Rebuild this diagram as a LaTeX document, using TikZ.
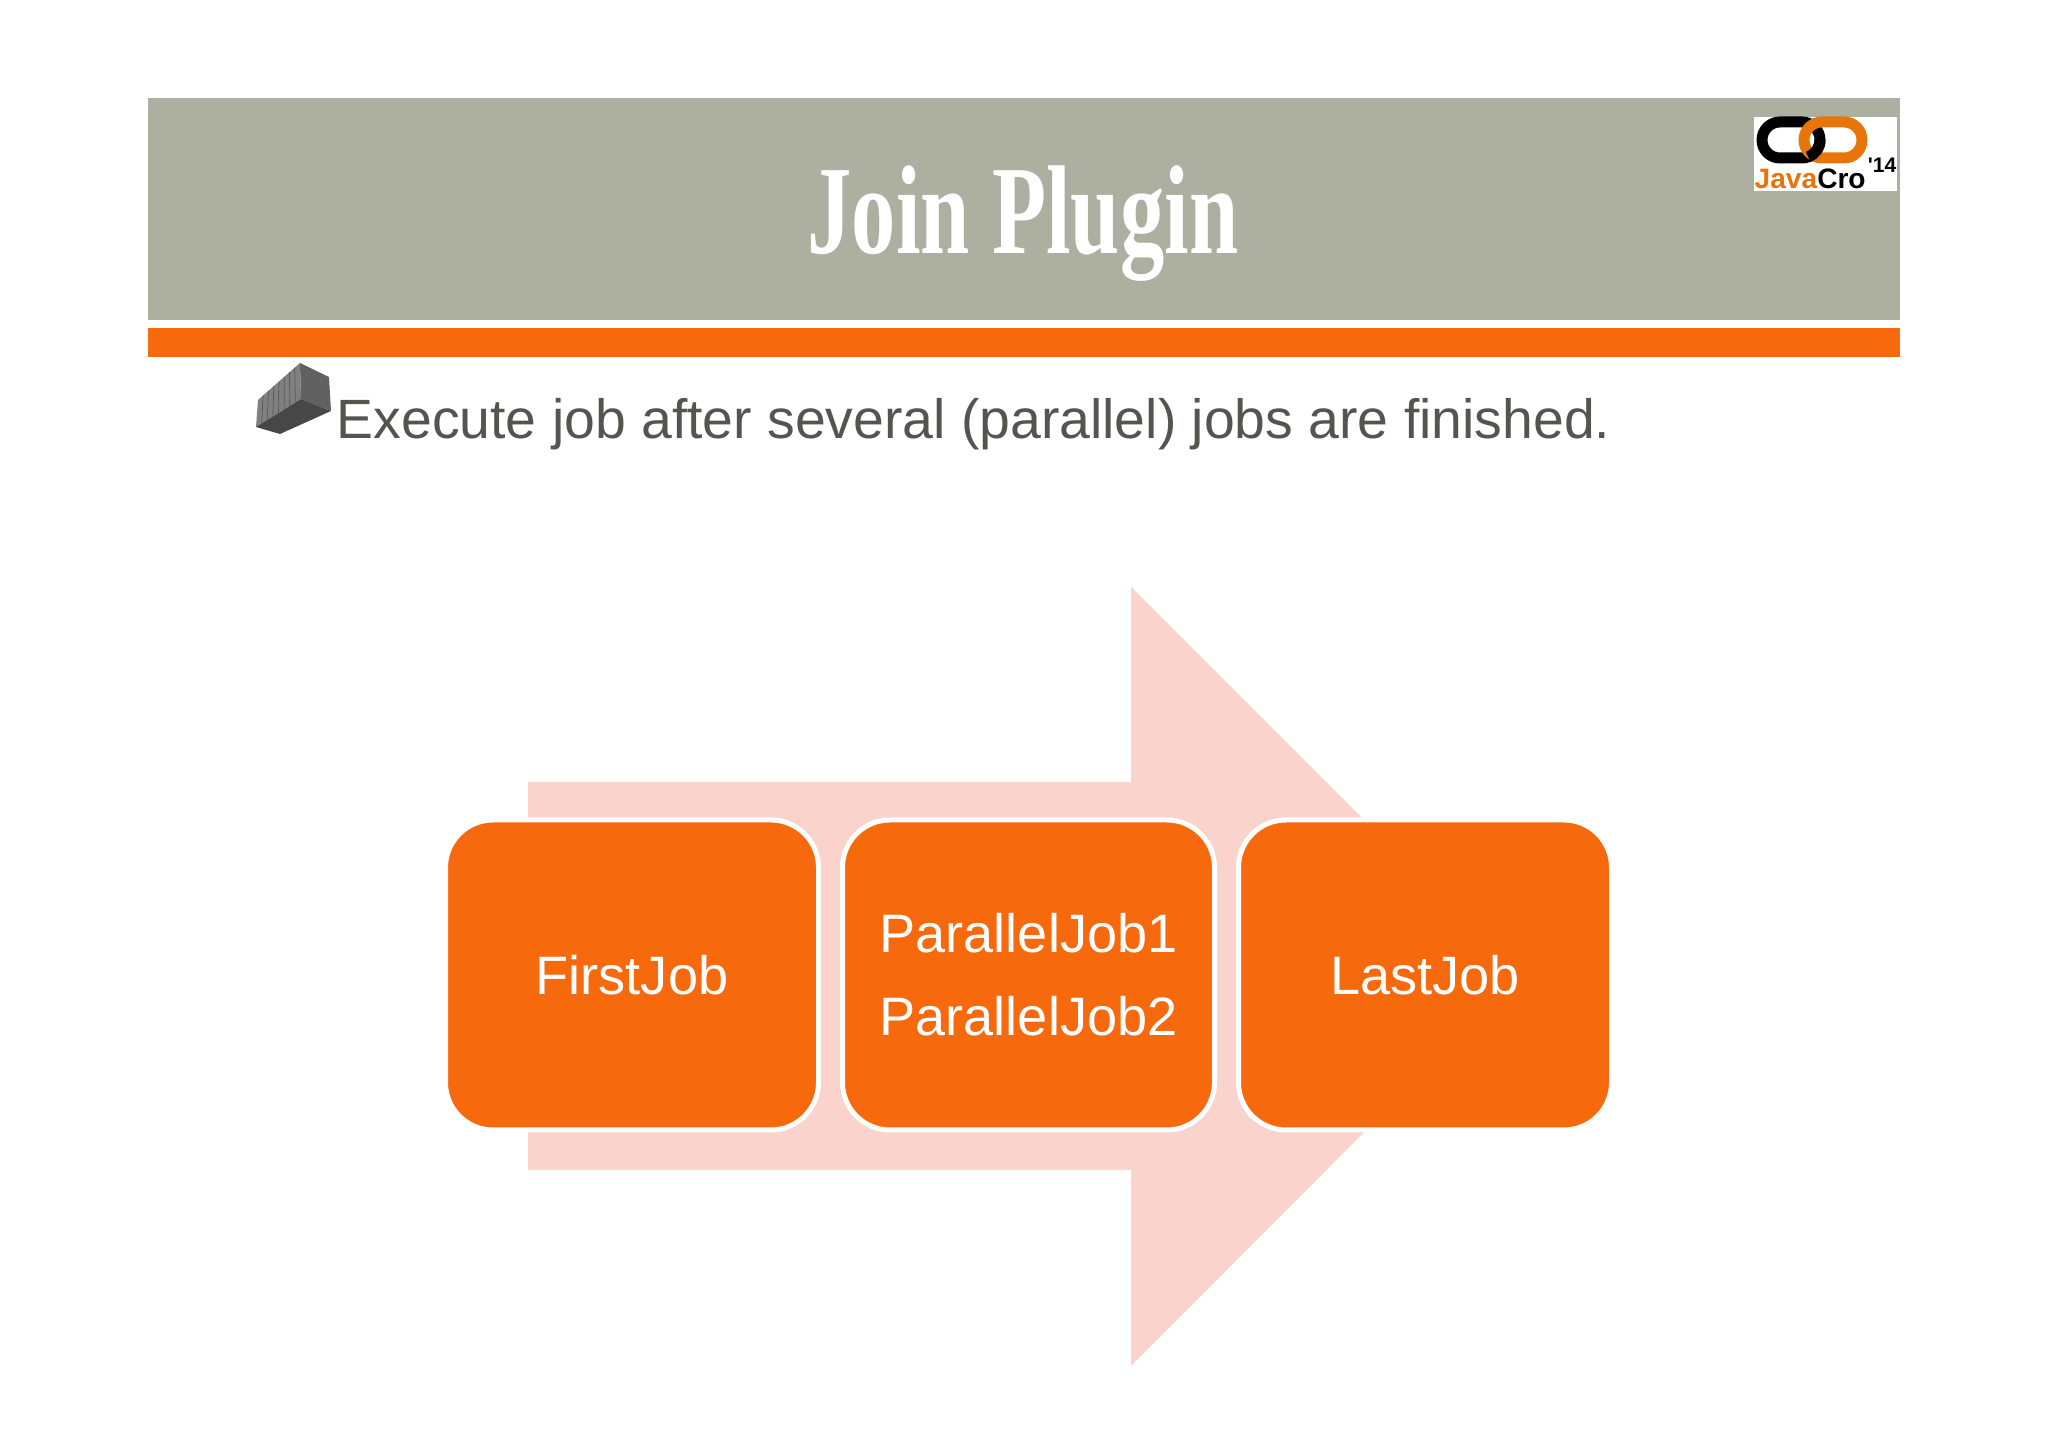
\documentclass[tikz,border=0pt]{standalone}
\usepackage{fontspec}
\setmainfont{Liberation Sans}
\newfontfamily\titlefont{Liberation Serif}
\definecolor{bannergray}{HTML}{ADAFA0}
\definecolor{barorange}{HTML}{F6690D}
\definecolor{arrowpink}{HTML}{FBD3CD}
\definecolor{textgray}{HTML}{55554F}
\definecolor{logoorange}{HTML}{E8750A}
\tikzset{
  jobbox/.style={draw=white,line width=0.05cm,fill=barorange,rounded corners=0.475cm,text=white,
    font=\fontsize{15.4}{23.6}\selectfont,align=center,inner sep=0pt,outer sep=0pt,
    minimum width=3.73cm,minimum height=3.10cm},
  linkbar/.style={line width=0.11cm,rounded corners=0.18cm},
}
\begin{document}
\begin{tikzpicture}
\useasboundingbox (0,0) rectangle (20.48,-14.47);
\fill[white] (0,0) rectangle (20.48,-14.47);
% banner
\fill[color=bannergray] (1.48,-0.98) rectangle (19.00,-3.20);
\fill[color=barorange] (1.48,-3.28) rectangle (19.00,-3.57);
\node (title) at (10.23,-2.54) [anchor=base,inner sep=0pt,color=white,font=\titlefont\bfseries\fontsize{36}{36}\selectfont,xscale=0.70,transform shape]{Join Plugin};
% logo
\fill[color=white] (17.54,-1.17) rectangle (18.97,-1.91);
\draw[linkbar,color=black] (17.62,-1.22) rectangle (18.20,-1.58);
\draw[linkbar,color=logoorange] (18.04,-1.22) rectangle (18.62,-1.58);
\draw[line width=0.11cm,color=black] (18.20,-1.40) arc (0:-70:0.18);
\node (logotext) at (17.54,-1.89) [anchor=base west,inner sep=0pt,font=\bfseries\fontsize{8}{8}\selectfont]{\textcolor{logoorange}{Java}Cro};
\node (logoyear) at (18.97,-1.73) [anchor=base east,inner sep=0pt,font=\bfseries\fontsize{6}{6}\selectfont]{\textquotesingle14};
% container
\fill[color=gray] (3.00,-3.63) -- (3.01,-3.99) -- (2.56,-4.27) -- (2.58,-4.00) -- cycle;
\fill[color=black!62] (3.00,-3.63) -- (3.29,-3.77) -- (3.31,-4.11) -- (3.01,-3.99) -- cycle;
\fill[color=black!72] (3.01,-3.99) -- (3.31,-4.11) -- (2.80,-4.34) -- (2.56,-4.27) -- cycle;
\foreach \x in {1,...,7} \draw[color=black!65,line width=0.2pt] ({2.58+0.42*\x/8},{-4.00+0.37*\x/8}) -- ({2.56+0.45*\x/8},{-4.27+0.28*\x/8});
\node (sentence) at (3.36,-4.39) [anchor=base west,inner sep=0pt,color=textgray,font=\fontsize{15.75}{15.75}\selectfont]{Execute job after several (parallel) jobs are finished.};
% arrow
\fill[color=arrowpink] (5.28,-7.82) -- (11.31,-7.82) -- (11.31,-5.87) -- (15.20,-9.76) -- (11.31,-13.66) -- (11.31,-11.70) -- (5.28,-11.70) -- cycle;
% jobs
\node (firstjob) at (6.32,-9.75) [jobbox]{FirstJob};
\node (paralleljobs) at (10.285,-9.75) [jobbox,minimum width=3.72cm]{ParallelJob1\\ParallelJob2};
\node (lastjob) at (14.25,-9.75) [jobbox]{LastJob};
\end{tikzpicture}
\end{document}
